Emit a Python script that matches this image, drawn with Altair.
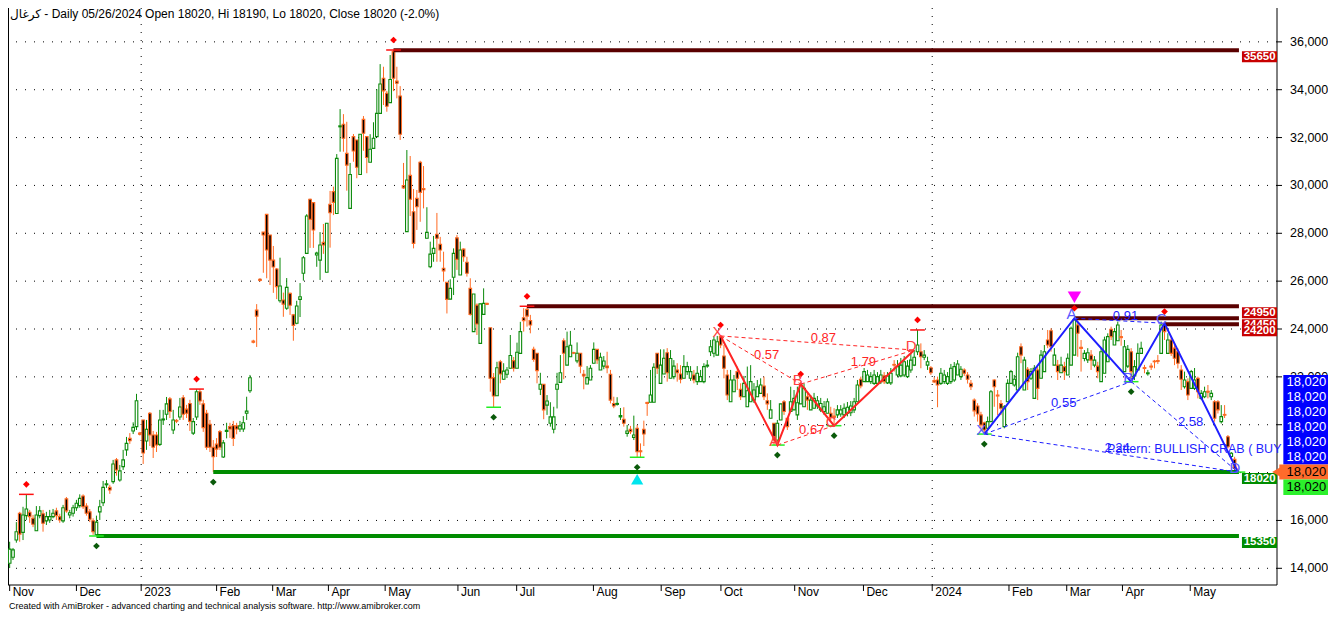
import altair as alt
import pandas as pd

TITLE = "کرغال - Daily 05/26/2024 Open 18020, Hi 18190, Lo 18020, Close 18020 (-2.0%)"
FOOTER = "Created with AmiBroker - advanced charting and technical analysis software. http://www.amibroker.com"

OPEN = [
    14210, 14460, 15180, 16300, 15500, 16200, 16340, 16090, 15570, 16200,
    16280, 15980, 16020, 16160, 16400, 16160, 15980, 16900, 16230, 16300,
    16530, 16620, 17020, 16600, 16360, 15990, 15400, 16360, 16740, 17490,
    17380, 17620, 18530, 17690, 18250, 18950, 19430, 19740, 19920, 19650,
    20200, 19320, 20480, 19570, 19570, 19180, 20200, 20440, 21080, 19780,
    20180, 20320, 21130, 20650, 20890, 19650, 20320, 21380, 20870, 20480,
    20020, 19060, 19190, 19710, 18650, 19720, 19920, 19960, 19950, 19820,
    19820, 20480, 21420, 23500, 24790, 26080, 28050, 28790, 27930, 26880,
    26510, 25180, 25210, 24870, 25490, 24590, 24240, 25240, 26330, 27160,
    29420, 29280, 27090, 26880, 27620, 26370, 29210, 29740, 28830, 32450,
    32560, 31340, 29040, 32040, 31900, 30460, 32760, 32040, 30970, 31550,
    32040, 33010, 34480, 33850, 33460, 35590, 34360, 33740, 29990, 28070,
    30420, 28900, 29460, 30970, 29870, 27790, 26600, 27160, 27960, 27540,
    26540, 25950, 25250, 26160, 27810, 26260, 27340, 26790, 25700, 23890,
    25000, 23400, 24610, 25070, 24050, 21970, 21210, 22630, 21900, 22110,
    22360, 22680, 22360, 22980, 24470, 24820, 24350, 23150, 22990, 21480,
    21690, 20820, 20060, 19810, 21480, 21770, 23510, 22490, 22840, 23010,
    22670, 22990, 22110, 21700, 21870, 22570, 23150, 22290, 22450, 22450,
    22110, 20890, 20850, 20330, 20230, 19640, 19810, 19470, 19850, 18910,
    19810, 20930, 20940, 20940, 22990, 21730, 22120, 23010, 21940, 22010,
    22290, 22120, 21940, 22220, 21940, 22080, 21800, 21800, 21800, 22450,
    23050, 22990, 22910, 23680, 22870, 22080, 20960, 21380, 22220, 21480,
    21170, 20750, 20960, 21030, 21170, 21310, 21620, 21000, 20270, 20060,
    19360, 20200, 20960, 20270, 20550, 20620, 20410, 20870, 20750, 21170,
    20620, 20690, 20780, 20620, 20550, 20480, 20480, 20360, 20410, 20450,
    20410, 20480, 20500, 20620, 20960, 21900, 21800, 21800, 21800, 21730,
    21730, 21800, 22040, 21750, 21750, 22520, 22080, 22040, 22080, 22010,
    22290, 22490, 23050, 23050, 22820, 22490, 22380, 21850, 21870, 21730,
    21800, 21730, 21800, 21870, 22080, 22010, 22290, 22080, 21730, 21030,
    20780, 20410, 20080, 19850, 20130, 21870, 21240, 20890, 19920, 20960,
    21730, 21660, 21450, 23260, 21450, 22320, 21940, 21100, 22290, 21940,
    22220, 23540, 23930, 22490, 22490, 22170, 22430, 22080, 22490, 22910,
    24170, 23240, 22770, 22710, 22910, 22490, 22450, 21800, 22150, 22630,
    23990, 23330, 23510, 23680, 22220, 22450, 23050, 22040, 22290, 22980,
    22390, 22130, 22450, 22660, 22680, 22980, 24240, 22980, 23540, 23200,
    23050, 22290, 21590, 21800, 21520, 21520, 21940, 21100, 21170, 21400,
    21170, 20960, 20960, 20130, 20430, 19500, 18670, 18550, 18020,
]
HIGH = [
    15110, 14850, 15930, 16360, 16570, 17090, 16440, 16230, 16600, 16600,
    16440, 16360, 16440, 16480, 16530, 16280, 16650, 16980, 16440, 16650,
    16860, 17090, 17090, 16720, 16480, 16090, 16200, 16860, 17650, 17690,
    17490, 18530, 18610, 18320, 18950, 19490, 19650, 20100, 21290, 19700,
    20200, 20200, 20530, 19740, 19700, 20620, 20620, 21160, 21160, 20620,
    20240, 21120, 21240, 20830, 21040, 20280, 21490, 21490, 21040, 20620,
    20200, 19360, 19440, 19780, 19360, 20080, 20080, 20160, 20080, 20160,
    20360, 21170, 22080, 23550, 25040, 26130, 28050, 28790, 27930, 27470,
    26550, 26980, 25520, 26130, 25520, 24630, 25180, 25920, 27050, 28800,
    29450, 29300, 27230, 28050, 28390, 28420, 29770, 29950, 31310, 33190,
    32980, 32660, 30940, 32150, 31900, 32140, 32900, 32040, 32140, 32640,
    34020, 35070, 34960, 33950, 35450, 35660, 34960, 34150, 30940, 31480,
    31230, 29850, 29810, 31030, 30810, 29090, 27650, 27890, 28850, 27850,
    27230, 25950, 26080, 27370, 27930, 27650, 27370, 27020, 26120, 25460,
    25070, 25070, 25700, 25100, 24050, 22160, 22630, 22710, 22570, 22410,
    23750, 22830, 23430, 24300, 24870, 24950, 24590, 23260, 22990, 22170,
    21690, 21240, 20940, 20750, 22170, 22910, 23610, 23890, 23920, 23050,
    23440, 22990, 22290, 22450, 22490, 23440, 23150, 23010, 22870, 23050,
    22290, 21170, 21150, 20700, 20730, 19990, 19950, 20380, 19990, 19220,
    20170, 20960, 22290, 22570, 22990, 23150, 23150, 23200, 23120, 22700,
    22570, 22490, 22910, 22630, 22450, 22290, 22450, 22290, 22570, 22700,
    23540, 23680, 23710, 23750, 23330, 22290, 22290, 22080, 22430, 21730,
    22040, 22430, 22490, 21740, 21870, 21940, 22010, 21310, 21030, 20060,
    20200, 20870, 21030, 20270, 21590, 21450, 21590, 21700, 21730, 21380,
    21240, 21330, 21200, 21120, 20990, 21100, 20750, 20690, 20820, 20820,
    20890, 20950, 20990, 21120, 21870, 22010, 22370, 22290, 22200, 22290,
    22200, 22290, 22200, 22200, 22370, 22700, 22700, 22790, 22870, 22700,
    22990, 23120, 23960, 23400, 23120, 22840, 22450, 21980, 22010, 22370,
    22290, 22200, 22540, 22620, 22700, 22450, 22360, 22200, 21870, 21100,
    20900, 20540, 20130, 20340, 21450, 21900, 21450, 21030, 20820, 21900,
    22290, 22080, 23010, 23400, 22840, 22410, 22370, 22490, 22410, 23120,
    23330, 23960, 24030, 23200, 22710, 22840, 22630, 22980, 24100, 24450,
    24310, 23540, 23120, 23200, 23120, 22870, 22630, 23200, 23680, 23820,
    24100, 24030, 24310, 23960, 23540, 23330, 23200, 22700, 23400, 23470,
    22500, 22290, 22570, 22710, 22910, 24310, 24310, 23820, 23710, 23330,
    23190, 22490, 22220, 21940, 22290, 22370, 22010, 21450, 21590, 21660,
    21450, 21030, 21030, 20820, 20820, 19570, 18860, 18660, 18190,
]
LOW = [
    14010, 14350, 15070, 15110, 15180, 16020, 15900, 15720, 15570, 16090,
    15530, 15810, 15900, 16090, 16020, 15900, 15900, 16320, 16090, 16160,
    16400, 16530, 16480, 16200, 15930, 15400, 15350, 16020, 16600, 17360,
    17110, 17530, 17870, 17620, 18110, 18700, 19200, 19610, 19780, 19550,
    18360, 18950, 19110, 18610, 18860, 19110, 19990, 20200, 20280, 19610,
    20070, 20200, 20200, 20280, 19740, 19570, 20200, 20830, 19700, 18950,
    18860, 18020, 18650, 18940, 18610, 19430, 19450, 19110, 19600, 19700,
    19700, 20200, 21330, 23400, 23250, 25980, 26350, 26120, 25840, 25510,
    25250, 25100, 24510, 24800, 24590, 23510, 24200, 24500, 26020, 27160,
    27390, 27390, 26600, 26050, 27140, 26370, 27400, 28760, 28830, 31410,
    31410, 29780, 29040, 30990, 30300, 30460, 31450, 30510, 30970, 31550,
    32040, 33010, 33360, 33080, 33460, 33940, 33640, 31900, 29860, 28070,
    28720, 27370, 28140, 28480, 29040, 27790, 26540, 26810, 26810, 26810,
    25980, 24650, 25250, 25420, 26470, 26260, 26810, 26190, 24560, 23890,
    23750, 23400, 24610, 25000, 21380, 20730, 21210, 21730, 21870, 21950,
    22360, 22220, 22360, 22980, 23890, 24100, 23820, 22630, 21730, 21240,
    20230, 20410, 19920, 19640, 20680, 21770, 21900, 22490, 22840, 22950,
    22570, 22150, 21480, 21700, 21870, 22570, 22540, 22290, 22320, 22150,
    20890, 20690, 20800, 20200, 19920, 19500, 19610, 19360, 18640, 18640,
    19110, 20370, 20940, 20940, 22120, 21730, 22120, 21800, 21940, 21900,
    21800, 21730, 21940, 22080, 21830, 21730, 21660, 21800, 21730, 22380,
    22870, 22820, 22910, 23200, 21940, 21030, 20960, 21380, 21450, 21030,
    21170, 20750, 20960, 20910, 21170, 21310, 21030, 20620, 20270, 19150,
    19150, 20200, 20410, 19780, 20550, 20620, 20200, 20870, 20750, 20620,
    20620, 20690, 20660, 20530, 20410, 20480, 20200, 19960, 20280, 20330,
    20280, 20350, 20360, 20490, 20960, 21520, 21800, 21800, 21700, 21660,
    21660, 21700, 21700, 21700, 21660, 22220, 21980, 21980, 21990, 21950,
    22170, 22450, 22910, 22360, 22700, 22290, 22080, 21740, 20730, 21660,
    21700, 21660, 21700, 21790, 22080, 21870, 22040, 21720, 21450, 20340,
    20130, 19850, 19610, 19780, 20130, 20750, 20400, 20400, 19850, 20960,
    21730, 21590, 21450, 22570, 21450, 21450, 21870, 21100, 21030, 21940,
    22220, 23200, 23050, 22490, 21870, 22170, 21870, 22080, 22490, 22910,
    22840, 22220, 22650, 22580, 22290, 22400, 21940, 21800, 22150, 22630,
    23540, 23330, 23510, 23300, 22220, 22370, 21800, 21870, 22290, 22980,
    22150, 22050, 22290, 22360, 22540, 22980, 23540, 22980, 22870, 22490,
    22350, 21450, 21510, 21030, 21520, 21450, 21100, 21030, 21110, 21100,
    21030, 20130, 20470, 20050, 20280, 19010, 18610, 18110, 18020,
]
CLOSE = [
    14800, 14770, 15530, 15430, 16230, 16480, 16160, 15840, 16230, 16400,
    15880, 16160, 16160, 16300, 16200, 16020, 16530, 16400, 16320, 16530,
    16720, 16920, 16570, 16300, 16050, 15530, 15930, 16570, 17380, 17530,
    17270, 18360, 18110, 18070, 18530, 19220, 19330, 19890, 21000, 19600,
    18820, 19810, 19570, 19060, 19150, 20200, 20240, 20870, 20550, 20200,
    20150, 20740, 20440, 20480, 20140, 20130, 21380, 20990, 19880, 19060,
    19060, 18660, 18980, 19060, 19240, 19770, 19820, 19430, 19820, 19950,
    20080, 20570, 21960, 23450, 24540, 26030, 27930, 27300, 26880, 26590,
    25770, 25800, 25040, 25740, 24990, 24150, 24960, 25350, 26980, 28720,
    28580, 28140, 27170, 27510, 27510, 28420, 28860, 29290, 31130, 32490,
    31970, 30850, 30460, 31440, 30760, 32140, 32180, 31170, 31510, 31970,
    33010, 34240, 33950, 33310, 34430, 34480, 34270, 32140, 29900, 30230,
    29420, 27580, 29110, 29710, 29820, 28040, 27130, 27370, 27790, 27300,
    26430, 25240, 25700, 27160, 26910, 27300, 27020, 26330, 24610, 25460,
    24210, 25050, 25070, 25030, 21940, 21200, 22380, 22120, 22240, 22290,
    22890, 22360, 23030, 23890, 24350, 24540, 24170, 22730, 22260, 21690,
    20620, 20990, 20330, 20330, 21690, 22170, 22990, 23260, 23320, 22990,
    22990, 22450, 22040, 21970, 22360, 23150, 22710, 22820, 22660, 22380,
    21030, 20780, 20890, 20380, 20060, 19740, 19710, 19570, 18870, 18870,
    19610, 20890, 21240, 22400, 22360, 22490, 22780, 22170, 22770, 22450,
    22170, 21900, 22430, 22430, 22220, 21870, 22150, 22010, 22430, 22490,
    23260, 23540, 23470, 23330, 22360, 21240, 21870, 21870, 21940, 21170,
    21730, 21420, 21800, 21450, 21590, 21660, 21170, 20870, 20620, 19360,
    20060, 20870, 20550, 19920, 20960, 21100, 20920, 21660, 21520, 21030,
    21030, 21100, 21000, 20890, 20750, 20960, 20310, 20310, 20620, 20620,
    20690, 20730, 20780, 20960, 21660, 21620, 22220, 22080, 22010, 22080,
    22010, 22080, 21800, 22040, 22150, 22490, 22430, 22490, 22630, 22450,
    22700, 22820, 23330, 22840, 22910, 22630, 22170, 21790, 21660, 22150,
    22080, 22010, 22360, 22430, 22540, 22320, 22150, 21900, 21590, 20580,
    20450, 19990, 19780, 20130, 21380, 21590, 21200, 20690, 20750, 21730,
    22220, 21900, 22840, 22910, 22700, 21800, 22220, 22360, 21520, 22910,
    23050, 23330, 23260, 22910, 22220, 22490, 22220, 22780, 24030, 24380,
    23820, 23190, 22980, 23010, 22700, 22700, 22220, 23050, 23540, 23680,
    23680, 23890, 24170, 23640, 23260, 23150, 22220, 22430, 22980, 23190,
    22350, 22170, 22410, 22630, 22650, 24170, 23890, 23540, 22980, 22780,
    22570, 21900, 21870, 21240, 22220, 21870, 21380, 21310, 21380, 21360,
    21310, 20270, 20620, 20340, 20400, 19080, 18810, 18180, 18020,
]

MONTH_TICKS = [0, 20, 39.4, 62, 78.8, 95.5, 112.5, 134.3, 151.9, 174.9,
               195.2, 213.1, 235.2, 255.8, 276.4, 299.4, 316.7, 333.4, 353.7]
MONTH_LABELS = ["Nov", "Dec", "2023", "Feb", "Mar", "Apr", "May", "Jun", "Jul", "Aug",
                "Sep", "Oct", "Nov", "Dec", "2024", "Feb", "Mar", "Apr", "May"]
YEAR_TICKS = [39.4, 276.4]
PRICE_TICKS = list(range(14000, 36001, 2000))

LEVEL_PRICE = [35650, 24950, 24450, 24200, 18020, 15350]
LEVEL_START = [115, 155, 319, 346, 61, 26]
LEVEL_KIND = ["res", "res", "res", "res", "sup", "sup"]
LEVEL_END = 368.3

HI_PIVOTS = [5, 56, 115, 155, 213, 237, 272, 319, 346]
LO_PIVOTS = [26, 61, 145, 188, 230, 247, 292, 336]
HI_MARKS = [5, 56, 115, 155, 272]
LO_MARKS = [26, 145, 188, 230, 247, 292, 336, 368]

PT_NAMES = ["X", "A", "B", "C", "D"]
RED_IDX = [213, 230, 237, 247, 271]
RED_PRICE = [23710, 19150, 21700, 19960, 23120]
RED_PAIRS = [(0, 2, "0.57"), (0, 4, "0.87"), (1, 3, "0.67"), (2, 4, "1.79")]
BLUE_IDX = [292, 319, 336, 346, 368]
BLUE_PRICE = [19610, 24450, 21800, 24240, 18020]
BLUE_PAIRS = [(0, 2, "0.55"), (1, 3, "0.91"), (2, 4, "2.58"), (0, 4, "2.24")]
PATTERN_TEXT = "Pattern: BULLISH CRAB ( BUY"
SELL_IDX = 319
BUY_IDX = 188
LAST_PRICE = 18020
LAST_LABEL = "18,020"

FONT = "Liberation Sans, DejaVu Sans"
UPC = "#0b8a0b"
DNC = "#ff6a22"
MAROON = "#5a0000"
SUPG = "#008c00"
REDCHIP = "#c80000"
RED = "#ff2424"
BLUE = "#1e1eff"

W, H = 1269, 577
XS = alt.Scale(domain=[-0.5, 379.7], nice=False, zero=False, padding=0)
YS = alt.Scale(domain=[13302, 37415], nice=False, zero=False, padding=0)


def X(f):
    return alt.X(f, type="quantitative", scale=XS, axis=None)


def Y(f):
    return alt.Y(f, type="quantitative", scale=YS, axis=None)


def XD(v):
    return alt.X(datum=v, type="quantitative", scale=XS, axis=None)


def YD(v):
    return alt.Y(datum=v, type="quantitative", scale=YS, axis=None)


n = min(len(OPEN), len(HIGH), len(LOW), len(CLOSE))
candles = pd.DataFrame({"i": list(range(n)), "o": OPEN[:n], "h": HIGH[:n],
                        "l": LOW[:n], "c": CLOSE[:n]})
one = pd.DataFrame({"z": [0]})
prices = pd.DataFrame({"p": PRICE_TICKS, "t": [f"{p:,}" for p in PRICE_TICKS]})
months = pd.DataFrame({"i": MONTH_TICKS, "t": MONTH_LABELS})

up = "datum.c > datum.o"
layers = []

# grid / axes drawn as marks
layers.append(alt.Chart(prices).mark_rule(color="black", strokeDash=[1, 8], strokeWidth=1).encode(
    y=Y("p")))
layers.append(alt.Chart(pd.DataFrame({"i": YEAR_TICKS})).mark_rule(
    color="black", strokeDash=[1, 7], strokeWidth=1).encode(x=X("i")))
layers.append(alt.Chart(one).mark_rule(color="black", strokeWidth=1).encode(
    x=alt.value(W), y=alt.value(0), y2=alt.value(H)))
layers.append(alt.Chart(one).mark_rule(color="black", strokeWidth=1).encode(
    x=alt.value(0), x2=alt.value(W), y=alt.value(H)))
layers.append(alt.Chart(one).mark_rule(color="black", strokeWidth=1).encode(
    x=alt.value(0.5), y=alt.value(0), y2=alt.value(H)))
layers.append(alt.Chart(prices).mark_rule(color="black", strokeWidth=1).encode(
    y=Y("p"), x=alt.value(W), x2=alt.value(W + 5)))
layers.append(alt.Chart(prices).mark_text(font=FONT, fontSize=12.5, color="black", align="left",
                                          baseline="middle").encode(
    x=alt.value(W + 13), y=Y("p"), text="t:N"))
layers.append(alt.Chart(months).mark_rule(color="black", strokeWidth=1).encode(
    x=X("i"), y=alt.value(H), y2=alt.value(H + 6)))
layers.append(alt.Chart(months).mark_text(font=FONT, fontSize=12, color="black", align="left",
                                          baseline="top", dx=3).encode(
    x=X("i"), y=alt.value(H + 2), text="t:N"))

# candles
layers.append(alt.Chart(candles).mark_rule(strokeWidth=1).encode(
    x=X("i"), y=Y("l"), y2="h:Q",
    color=alt.condition(up, alt.value(UPC), alt.value(DNC))))
layers.append(alt.Chart(candles).mark_bar(width=2.6, strokeWidth=1.1).encode(
    x=X("i"), y=Y("o"), y2="c:Q",
    fill=alt.condition(up, alt.value("white"), alt.value("black")),
    stroke=alt.condition(up, alt.value(UPC), alt.value(DNC))))

levels = pd.DataFrame({"p": LEVEL_PRICE, "s": LEVEL_START, "e": [LEVEL_END] * len(LEVEL_PRICE),
                       "kind": LEVEL_KIND, "label": [str(p) for p in LEVEL_PRICE]})
layers.append(alt.Chart(levels).mark_rule(strokeWidth=4).encode(
    x=X("s"), x2="e:Q", y=Y("p"),
    color=alt.condition("datum.kind == 'res'", alt.value(MAROON), alt.value(SUPG))))

for k in range(len(LEVEL_PRICE)):
    d = levels.iloc[[k]]
    chipc = REDCHIP if LEVEL_KIND[k] == "res" else SUPG
    layers.append(alt.Chart(d).mark_rect(color=chipc, yOffset=1, y2Offset=12).encode(
        x=XD(369.2), x2=alt.X2(datum=379.7), y=Y("p"), y2="p:Q"))
    layers.append(alt.Chart(d).mark_text(font=FONT, fontSize=11.5, fontWeight="bold",
                                         color="white", yOffset=6.5, align="center",
                                         baseline="middle").encode(
        x=XD(374.5), y=Y("p"), text="label:N"))

# pivot marks
hi = pd.DataFrame({"i": HI_MARKS, "p": [HIGH[i] for i in HI_MARKS]})
hi["a"] = hi["i"] - 2.2
hi["b"] = hi["i"] + 2.2
layers.append(alt.Chart(hi).mark_rule(color="#ff1010", strokeWidth=1.5).encode(
    x=X("a"), x2="b:Q", y=Y("p")))
lo = pd.DataFrame({"i": LO_MARKS, "p": [LOW[i] for i in LO_MARKS]})
lo["a"] = lo["i"] - 2.2
lo["b"] = lo["i"] + 2.2
layers.append(alt.Chart(lo).mark_rule(color="#22ee22", strokeWidth=1.5).encode(
    x=X("a"), x2="b:Q", y=Y("p")))

hp = pd.DataFrame({"i": HI_PIVOTS, "p": [HIGH[i] for i in HI_PIVOTS]})
layers.append(alt.Chart(hp).mark_point(shape="diamond", filled=True, size=45, color="#ff0000",
                                       opacity=1, yOffset=-10).encode(x=X("i"), y=Y("p")))
lp = pd.DataFrame({"i": LO_PIVOTS, "p": [LOW[i] for i in LO_PIVOTS]})
layers.append(alt.Chart(lp).mark_point(shape="diamond", filled=True, size=45, color="#0a5a0a",
                                       opacity=1, yOffset=10).encode(x=X("i"), y=Y("p")))


def pattern(idx, price, pairs, col, letter_col):
    pts = pd.DataFrame({"i": idx, "p": price, "k": PT_NAMES, "n": list(range(len(idx)))})
    pr = pd.DataFrame({"i1": [idx[a] for a, b, t in pairs], "p1": [price[a] for a, b, t in pairs],
                       "i2": [idx[b] for a, b, t in pairs], "p2": [price[b] for a, b, t in pairs],
                       "lab": [t for a, b, t in pairs]})
    pr["mi"] = (pr["i1"] + pr["i2"]) / 2
    pr["mp"] = (pr["p1"] + pr["p2"]) / 2
    out = [
        alt.Chart(pr).mark_rule(color=col, strokeWidth=1, strokeDash=[4, 3]).encode(
            x=X("i1"), y=Y("p1"), x2="i2:Q", y2="p2:Q"),
        alt.Chart(pts).mark_line(color=col, strokeWidth=2).encode(
            x=X("i"), y=Y("p"), order="n:Q"),
        alt.Chart(pr).mark_text(color=col, font=FONT, fontSize=13, dx=6, dy=-5).encode(
            x=X("mi"), y=Y("mp"), text="lab:N"),
        alt.Chart(pts).mark_text(color=letter_col, font=FONT, fontSize=15, dx=-3, dy=-4).encode(
            x=X("i"), y=Y("p"), text="k:N"),
    ]
    return out, pr


red_layers, _ = pattern(RED_IDX, RED_PRICE, RED_PAIRS, RED, "#ff4040")
layers += red_layers
blue_layers, bpr = pattern(BLUE_IDX, BLUE_PRICE, BLUE_PAIRS, BLUE, "#5a5aff")
layers += blue_layers
xd = bpr[bpr["lab"] == "2.24"][["mi", "mp"]].copy()
xd["t"] = PATTERN_TEXT
layers.append(alt.Chart(xd).mark_text(color=BLUE, font=FONT, fontSize=12.5, align="left",
                                      dx=-4, dy=-4).encode(x=X("mi"), y=Y("mp"), text="t:N"))

layers.append(alt.Chart(pd.DataFrame({"i": [SELL_IDX], "p": [HIGH[SELL_IDX]]})).mark_point(
    shape="triangle-down", filled=True, size=180, color="#ff00ff", opacity=1, yOffset=-21).encode(
    x=X("i"), y=Y("p")))
layers.append(alt.Chart(pd.DataFrame({"i": [BUY_IDX], "p": [LOW[BUY_IDX]]})).mark_point(
    shape="triangle-up", filled=True, size=150, color="#00e5ee", opacity=1, yOffset=22).encode(
    x=X("i"), y=Y("p")))

# right side price chips
layers.append(alt.Chart(one).mark_rect(color="#0000ff", yOffset=-97, y2Offset=-7.5).encode(
    x=XD(381.6), x2=alt.X2(datum=395.4), y=YD(LAST_PRICE), y2=alt.Y2(datum=LAST_PRICE)))
layers.append(alt.Chart(one).mark_rect(color="#ff6b2b", yOffset=-7.5, y2Offset=7.5).encode(
    x=XD(380.4), x2=alt.X2(datum=395.4), y=YD(LAST_PRICE), y2=alt.Y2(datum=LAST_PRICE)))
layers.append(alt.Chart(one).mark_point(shape="triangle-left", filled=True, size=110,
                                        color="#ff6b2b", opacity=1).encode(
    x=XD(379.6), y=YD(LAST_PRICE)))
layers.append(alt.Chart(one).mark_rect(color="#2cf02c", yOffset=7.5, y2Offset=23).encode(
    x=XD(381.6), x2=alt.X2(datum=395.4), y=YD(LAST_PRICE), y2=alt.Y2(datum=LAST_PRICE)))
chip_rows = [(-15 * k, "white") for k in range(1, 7)] + [(0, "black"), (15, "black")]
for off, tc in chip_rows:
    layers.append(alt.Chart(pd.DataFrame({"t": [LAST_LABEL]})).mark_text(
        font=FONT, fontSize=13, color=tc, align="center", baseline="middle", yOffset=off).encode(
        x=XD(388.5), y=YD(LAST_PRICE), text="t:N"))

layers.append(alt.Chart(pd.DataFrame({"t": [TITLE]})).mark_text(
    font=FONT, fontSize=12, color="black", align="left", baseline="top").encode(
    x=alt.value(2), y=alt.value(1), text="t:N"))
layers.append(alt.Chart(pd.DataFrame({"t": [FOOTER]})).mark_text(
    font=FONT, fontSize=9, color="black", align="left", baseline="middle").encode(
    x=alt.value(1), y=alt.value(H + 21), text="t:N"))

chart = alt.layer(*layers).properties(
    width=W, height=H,
    autosize=alt.AutoSizeParams(type="none"),
    padding={"left": 0, "top": 0, "right": 51, "bottom": 26},
).configure_view(stroke=None)

chart.save("out.html", embed_options={"renderer": "svg", "actions": False})
